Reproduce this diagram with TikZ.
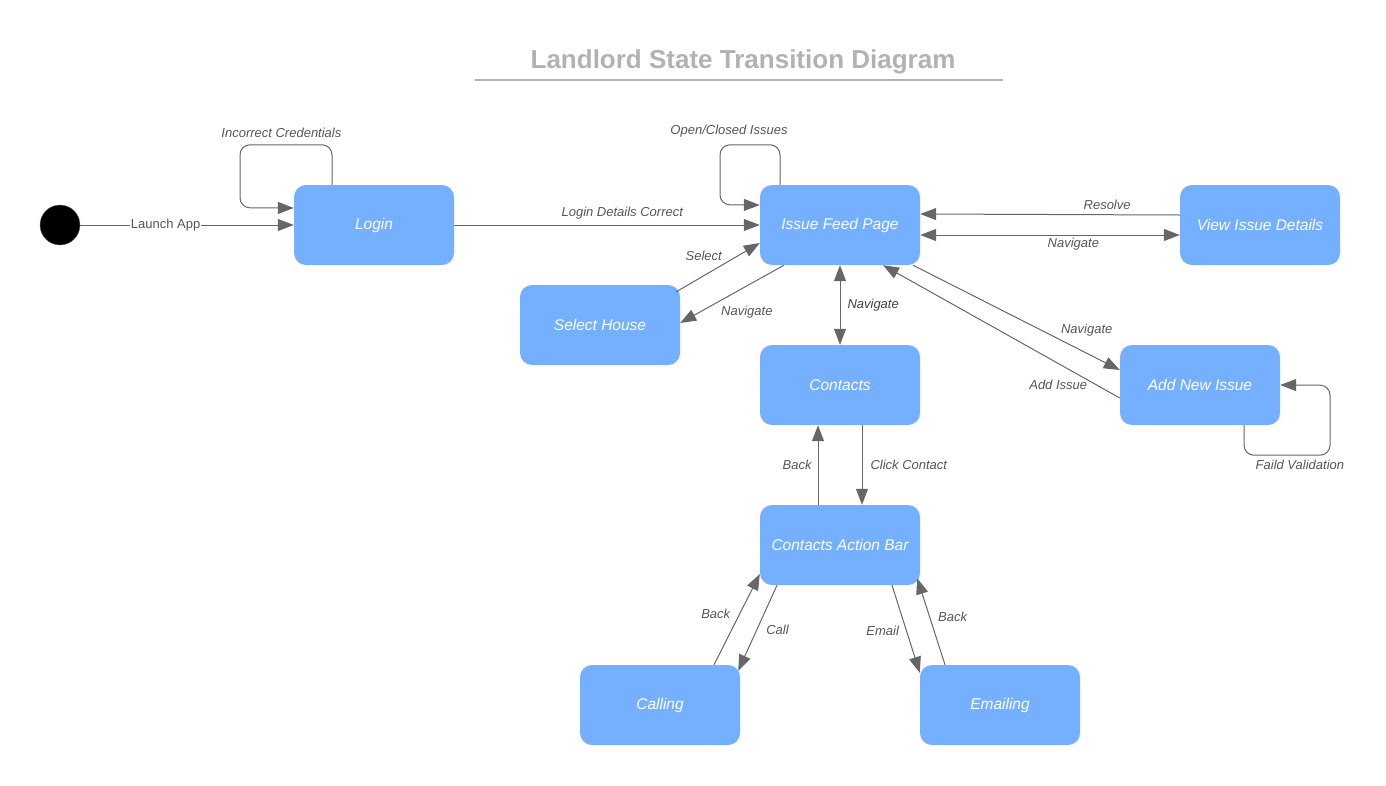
\documentclass[tikz,border=0pt]{standalone}
\usepackage{fontspec}
\setmainfont{Liberation Sans}
\usetikzlibrary{arrows.meta,positioning}
\definecolor{boxblue}{RGB}{116,176,255}
\definecolor{linegray}{RGB}{102,102,102}
\definecolor{labelgray}{RGB}{85,85,85}
\definecolor{titlegray}{RGB}{178,178,178}

\begin{document}
\begin{tikzpicture}[x=1pt,y=-1pt,>={Triangle[length=16pt,width=12pt]},
        state/.style={fill=boxblue,rounded corners=12pt,minimum width=160pt,minimum height=80pt,inner sep=0pt,text=white,font=\itshape\fontsize{15.5}{18}\selectfont},
        trans/.style={draw=linegray,line width=1pt,->},
        lbl/.style={font=\itshape\fontsize{13}{15}\selectfont,text=labelgray,inner sep=1pt}]
        \useasboundingbox (0,0) rectangle (1386,785);
        \node [font=\bfseries\fontsize{26}{31}\selectfont,text=titlegray] (title) at (743,62) {Landlord State Transition Diagram};
        \draw [titlegray,line width=2pt] (475,80) -- (1003,80); % title rule
        \node [circle,fill=black,draw=linegray,minimum size=40pt,inner sep=0pt] (start) at (60,225) {};
        \foreach \n/\x/\y/\t in {login/374/225/Login,feed/840/225/Issue Feed Page,view/1260/225/View Issue Details,house/600/325/Select House,contacts/840/385/Contacts,addissue/1200/385/Add New Issue,actionbar/840/545/Contacts Action Bar,calling/660/705/Calling,emailing/1000/705/Emailing} {
            \node [state] (\n) at (\x,\y) {\t};
        }
        \draw [trans] (start.east) -- (login.west) node [pos=.4,fill=white,text=labelgray,font=\fontsize{13}{15}\selectfont,inner sep=1pt] {Launch App};
        \draw [trans,rounded corners=10pt] ([xshift=-42pt]login.north) -- ++(0,-40) -- node [lbl,above=6pt,pos=.55] {Incorrect Credentials} ++(-92,0) -- ++(0,63) -- ([yshift=17pt]login.west); % self loop
        \draw [trans] (login.east) -- (feed.west) node [lbl,pos=.55,above=4pt] {Login Details Correct};
        \draw [trans,rounded corners=10pt] ([xshift=-60pt]feed.north) -- ++(0,-40) -- node [lbl,above=6pt,pos=.85] {Open/Closed Issues} ++(-60,0) -- ++(0,60) -- ([yshift=20pt]feed.west); % self loop
        \draw [trans] ([yshift=10pt]view.west) -- ([yshift=11pt]feed.east) node [lbl,pos=.28,above=4pt] {Resolve};
        \draw [trans,<->] ([yshift=-10pt]feed.east) -- ([yshift=-10pt]view.west) node [lbl,pos=.59,below=2pt] {Navigate};
        \draw [trans] ([xshift=-4pt,yshift=-7pt]house.north east) -- ([yshift=-18pt]feed.west) node [lbl,pos=.58,above left=2pt] {Select};
        \draw [trans] ([xshift=-56pt]feed.south) -- ([yshift=2pt]house.east) node [lbl,pos=.64,below right=3pt] {Navigate};
        \draw [trans,<->] (feed.south) -- (contacts.north) node [lbl,midway,right=6pt,text=black!75] {Navigate};
        \draw [trans] ([xshift=73pt]feed.south) -- ([yshift=15pt]addissue.west) node [lbl,pos=.84,above=16pt] {Navigate};
        \draw [trans] ([yshift=-13pt]addissue.west) -- ([xshift=43pt]feed.south) node [lbl,pos=.26,below=15pt] {Add Issue};
        \draw [trans,rounded corners=10pt] ([xshift=44pt]addissue.south) -- ++(0,30) -- node [lbl,below=3pt,pos=.65] {Faild Validation} ++(86,0) -- ++(0,-70) -- (addissue.east); % self loop
        \draw [trans] ([xshift=-22pt]actionbar.north) -- ([xshift=-22pt]contacts.south) node [lbl,midway,left=5pt] {Back};
        \draw [trans] ([xshift=22pt]contacts.south) -- ([xshift=22pt]actionbar.north) node [lbl,midway,right=7pt] {Click Contact};
        \draw [trans] ([xshift=54pt]calling.north) -- ([yshift=-29pt]actionbar.west) node [lbl,pos=.56,left=8pt] {Back};
        \draw [trans] ([xshift=-63pt]actionbar.south) -- ([xshift=-2pt,yshift=-6pt]calling.north east) node [lbl,pos=.52,right=8pt] {Call};
        \draw [trans] ([xshift=52pt]actionbar.south) -- ([yshift=-8pt]emailing.north west) node [lbl,pos=.52,left=6pt] {Email};
        \draw [trans] ([xshift=-55pt]emailing.north) -- ([xshift=-3pt,yshift=7pt]actionbar.south east) node [lbl,pos=.55,right=7pt] {Back};
    \end{tikzpicture}
\end{document}
